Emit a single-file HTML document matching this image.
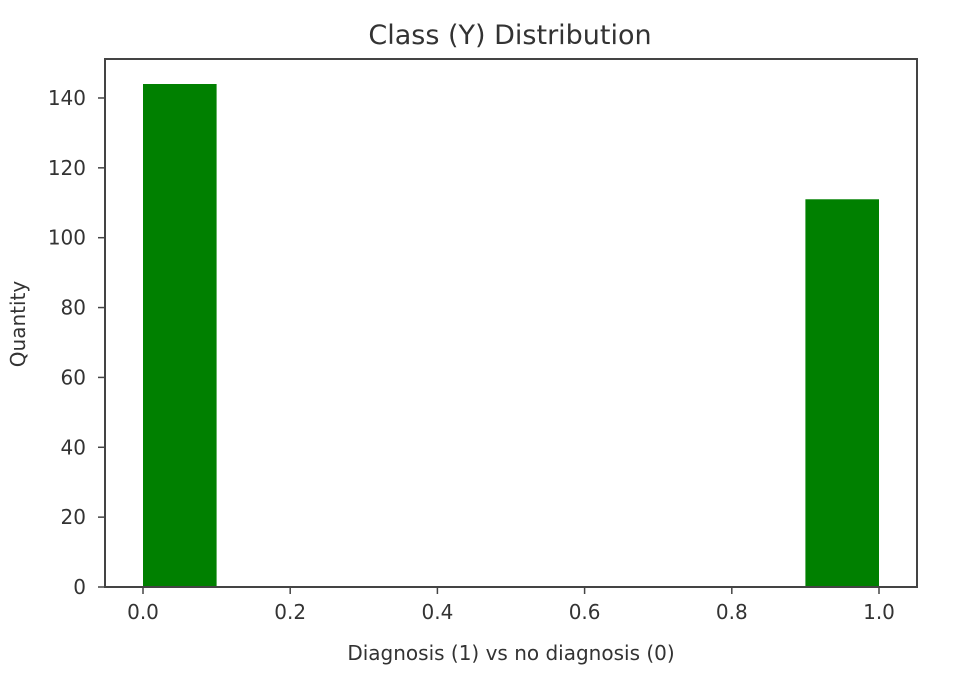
<!DOCTYPE html>
<html><head><meta charset="utf-8"><style>
body{margin:0;background:#fff;}
svg{display:block;font-family:"DejaVu Sans","Liberation Sans",sans-serif;}
</style></head><body>
<svg id="chart" width="961" height="686" viewBox="0 0 961 686">
<rect width="961" height="686" fill="#fff"/>
<text x="510" y="44" text-anchor="middle" font-size="27" fill="#333">Class (Y) Distribution</text>
<g id="bars"></g>
<g id="xticks"></g>
<g id="yticks"></g>
<rect x="105" y="59" width="812" height="528" fill="none" stroke="#444" stroke-width="2"/>
<text x="511" y="660" text-anchor="middle" font-size="20" fill="#333">Diagnosis (1) vs no diagnosis (0)</text>
<text x="0" y="0" transform="translate(25,324) rotate(-90)" text-anchor="middle" font-size="20" fill="#333">Quantity</text>
</svg>
<script>
const binStarts=[0,0.9];
const binWidth=0.1;
const counts=[144,111];
const xTicks=[0,0.2,0.4,0.6,0.8,1.0];
const xTickLabels=["0.0","0.2","0.4","0.6","0.8","1.0"];
const yTicks=[0,20,40,60,80,100,120,140];
const NS="http://www.w3.org/2000/svg";
const X=v=>143+v*736;
const Y=v=>587-v*3.493;
function mk(t,a){const e=document.createElementNS(NS,t);for(const k in a)e.setAttribute(k,a[k]);return e;}
const bars=document.getElementById('bars');
binStarts.forEach((b,i)=>{
 const r=mk('rect',{x:X(b),y:Y(counts[i]),width:X(b+binWidth)-X(b),height:Y(0)-Y(counts[i]),fill:'#008000'});
 
 
 bars.appendChild(r);
});
const xt=document.getElementById('xticks');
xTicks.forEach((v,i)=>{
 const l=mk('line',{x1:X(v),x2:X(v),y1:587,y2:594,stroke:'#444','stroke-width':1.5});
 
 
 xt.appendChild(l);
 const t=mk('text',{x:X(v),y:619,'text-anchor':'middle','font-size':20,fill:'#333'});
 t.textContent=xTickLabels[i];
 
 
 xt.appendChild(t);
});
const yt=document.getElementById('yticks');
yTicks.forEach(v=>{
 const l=mk('line',{x1:98,x2:105,y1:Y(v),y2:Y(v),stroke:'#444','stroke-width':1.5});
 
 
 yt.appendChild(l);
 const t=mk('text',{x:86,y:Y(v)+7,'text-anchor':'end','font-size':20,fill:'#333'});
 t.textContent=String(v);
 
 
 yt.appendChild(t);
});
</script>
</body></html>
